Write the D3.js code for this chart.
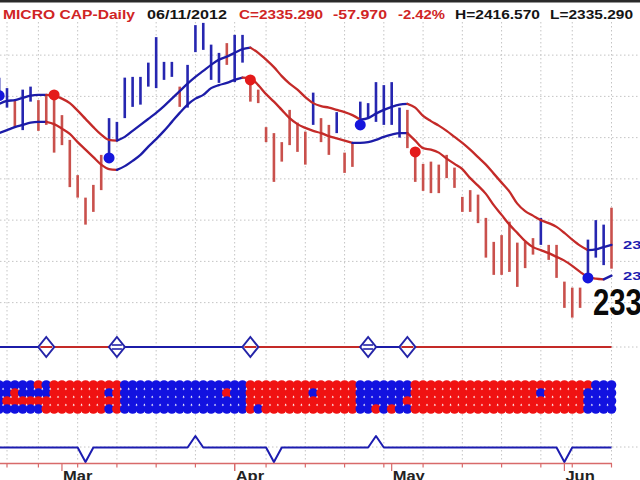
<!DOCTYPE html>
<html><head><meta charset="utf-8">
<script src="https://cdn.jsdelivr.net/npm/d3@7"></script>
<style>html,body{margin:0;padding:0;background:#fff;overflow:hidden}svg{display:block;font-family:"Liberation Sans",Arial,sans-serif}</style>
</head><body><svg id="c" width="640" height="480"></svg>
<script>
// ---------- data ----------
const days = ["02-17","02-21","02-22","02-23","02-24","02-27","02-28","02-29",
"03-01","03-02","03-05","03-06","03-07","03-08","03-09","03-12","03-13","03-14","03-15","03-16","03-19","03-20","03-21","03-22","03-23","03-26","03-27","03-28","03-29","03-30",
"04-02","04-03","04-04","04-05","04-09","04-10","04-11","04-12","04-13","04-16","04-17","04-18","04-19","04-20","04-23","04-24","04-25","04-26","04-27","04-30",
"05-01","05-02","05-03","05-04","05-07","05-08","05-09","05-10","05-11","05-14","05-15","05-16","05-17","05-18","05-21","05-22","05-23","05-24","05-25","05-29","05-30","05-31",
"06-01","06-04","06-05","06-06","06-07","06-08","06-11"];
const barHigh = [2590,2576,2559,2574,2578,2560,2567,2567,2540,2507,2460,2430,2447,2487,2536,2531,2590,2591,2591,2610,2644,2611,2611,2578,2607,2660,2663,2634,2623,2636,
2647,2647,2587,2574,2524,2516,2504,2547,2530,2518,2570,2536,2527,2544,2490,2503,2558,2556,2584,2580,
2584,2550,2547,2491,2475,2478,2474,2487,2470,2431,2440,2434,2403,2371,2380,2398,2370,2371,2376,2403,2367,2367,
2318,2310,2310,2374,2400,2394,2416.57];
const barLow = [2566,2550,2523,2520,2558,2519,2527,2490,2500,2444,2430,2394,2411,2440,2483,2507,2536,2551,2554,2578,2576,2587,2591,2551,2550,2624,2627,2587,2583,2607,
2584,2610,2558,2556,2504,2451,2478,2500,2491,2474,2527,2504,2487,2516,2463,2471,2527,2536,2531,2527,
2527,2510,2496,2451,2439,2436,2436,2456,2443,2411,2411,2396,2350,2327,2327,2331,2311,2336,2354,2367,2347,2323,
2283,2270,2283,2323,2350,2340,2335.29];
const barColor = ("bbrbbrrrrr"+"rrrrbbbbbb"+"bbbrbbbbbr"+"bbrrrrrrrr"+"brrbrrbbbb"+"bbrrrrrrrr"+"rrrrrrrrrb"+"rrrrrbbbr").split("");
const upperBand = [2555,2559,2560,2563,2566,2567,2567,2566,2562,2556,2546,2535,2524,2514,2507,2506,2511,2519,2527,2535,2543,2552,2562,2572,2582,2591,2599,2607,2614,2618,
2623,2628,2630,2623,2614,2604,2592,2582,2574,2564,2556,2552,2550,2547,2544,2540,2534,2536,2542,2547,
2551,2554,2555,2550,2539,2532,2526,2519,2511,2503,2494,2484,2474,2462,2450,2438,2422,2412,2406,2400,2396,2391,
2383,2374,2366,2360,2361,2364,2367];
const lowerBand = [2516,2520,2524,2527,2530,2531,2531,2528,2522,2515,2504,2494,2484,2474,2468,2467,2472,2479,2487,2498,2508,2519,2531,2543,2554,2562,2567,2576,2580,2583,
2587,2590,2589,2580,2568,2558,2547,2536,2528,2523,2519,2516,2512,2509,2506,2503,2503,2504,2507,2511,
2514,2516,2516,2506,2496,2494,2490,2482,2475,2468,2456,2446,2435,2420,2407,2394,2383,2372,2364,2360,2356,2351,
2346,2339,2331,2324,2322,2321,2326];
const gridValues = [2290,2345,2400,2455,2510,2565,2620];
const monthLabels = ["Mar","Apr","May","Jun"];
const buyDots = ["02-17","03-09","04-25","06-06"];
const sellDots = ["02-29","04-04","05-04"];
const diamondDays = ["02-28","03-12","04-04","04-26","05-03"];
const diamondSide = ["sell","buy","sell","buy","sell"];
const oscDays = ["03-06","03-26","04-10","04-27","06-01"];
const oscValues = [-1,1,-1,1,-1];
const matrixRows = [
 "bbbbbrbrrrrrrrrrbbbbbbbbbbbbbbbbrrrrrrrrrrrrrrbbbbbbbrrrrrrrrrrrrrrrrrrrrrrrbbb",
 "bbrbbbbrrrrrrrbrbbbbbbbbbbbbbrbbrrrrrrrrbrrrrrbbbbbbbrrrrrrrrrrrrrrrrbrrrrrbbbb",
 "brrrrrrrrrrrrrrrbbbbbbbbbbbbbbbbrrrrrrrrrrrrrrbbbbbbrrrrrrrrrrrrrrrrrrrrrrrbbbb",
 "bbbbbbrrrrrrrrbrbbbbbbbbbbbbbbbbrbrrrrrrrrrrrrbbrbrbbrrrrrrrrrrrrrrrrrrrrrrbbbb"];
const headerTexts = ["MICRO CAP-Daily","06/11/2012","C=2335.290","-57.970","-2.42%","H=2416.570","L=2335.290"];
const lastClose = 2335.29;

// ---------- styles ----------
const C = {barB:"#2626b0", barR:"#c9504c", lineB:"#1c1ca8", lineR:"#c42a28", dotB:"#1616dc", dotR:"#e41a1a",
  mB:"#1212e0", mR:"#f01212", grid:"#c4c4c4", hdrR:"#d02424", hdrK:"#141414"};
const headerStyle = [[3,132,C.hdrR],[147,80,C.hdrK],[239,84,C.hdrR],[333,54,C.hdrR],[398,47,C.hdrR],[455,85,C.hdrK],[550,83,C.hdrK]];

const svg = d3.select("#c");
const parse = d3.timeParse("%Y-%m-%d");
const dates = days.map(d => parse("2012-" + d));
const x = d3.scalePoint().domain(days).range([-0.85, 611.5]);
const y = d3.scaleLinear().domain([2280, 2680]).range([310.125, 10.125]);
const my = d3.scalePoint().domain([0,1,2,3]).range([385, 409]);
const oy = d3.scaleLinear().domain([-1,0,1]).range([462,447.5,436]);

// top border
svg.append("rect").attr("x",0).attr("y",0).attr("width",640).attr("height",2.5).attr("fill","#2a2a2a");

// week / month starts
const weekStart = days.filter((d,i) => i>0 && +d3.timeMonday.floor(dates[i]) !== +d3.timeMonday.floor(dates[i-1]));
const monthStart = days.filter((d,i) => i>0 && dates[i].getMonth() !== dates[i-1].getMonth());

// grid
const g = svg.append("g").attr("stroke", C.grid).attr("stroke-width",1).attr("stroke-dasharray","1.5,2.5");
g.selectAll(".v").data(weekStart).join("line").attr("x1",d=>x(d)).attr("x2",d=>x(d)).attr("y1",22).attr("y2",462);
g.selectAll(".h").data(gridValues).join("line").attr("x1",0).attr("x2",640).attr("y1",d=>y(d)).attr("y2",d=>y(d));
g.selectAll(".h2").data([347,447]).join("line").attr("x1",0).attr("x2",640).attr("y1",d=>d).attr("y2",d=>d);

// bars
svg.append("g").selectAll("line").data(days).join("line")
  .attr("x1",d=>x(d)).attr("x2",d=>x(d))
  .attr("y1",(d,i)=>y(barHigh[i])).attr("y2",(d,i)=>y(barLow[i]))
  .attr("stroke",(d,i)=>barColor[i]==="b"?C.barB:C.barR).attr("stroke-width",2.6);

// bands coloured by slope
function band(vals){
  const runs=[]; let cur=null;
  for(let i=0;i<vals.length-1;i++){
    const col = vals[i+1]>=vals[i] ? C.lineB : C.lineR;
    if(!cur || cur.col!==col){ cur={col,idx:[i]}; runs.push(cur); }
    cur.idx.push(i+1);
  }
  const line = d3.line().x(i=>x(days[i])).y(i=>y(vals[i])).curve(d3.curveMonotoneX);
  svg.append("g").selectAll("path").data(runs).join("path")
    .attr("d",r=>line(r.idx)).attr("fill","none").attr("stroke",r=>r.col).attr("stroke-width",2.3).attr("stroke-linecap","round");
}
band(upperBand); band(lowerBand);

// signal dots
svg.append("g").selectAll("circle").data(buyDots).join("circle")
  .attr("cx",d=>x(d)).attr("cy",d=>y(barLow[days.indexOf(d)])).attr("r",5.5).attr("fill",C.dotB);
svg.append("g").selectAll("circle").data(sellDots).join("circle")
  .attr("cx",d=>x(d)).attr("cy",d=>y(barHigh[days.indexOf(d)])).attr("r",5.5).attr("fill",C.dotR);

// right labels
const last = days.length-1;
[upperBand[last], lowerBand[last]].forEach(v=>{
  svg.append("text").attr("x",623).attr("y",y(v)+4).attr("font-size",11).attr("font-weight","bold").attr("fill","#1c1cb0")
    .attr("textLength",60).attr("lengthAdjust","spacingAndGlyphs").text(v.toFixed(2));
});
svg.append("text").attr("x",593).attr("y",315).attr("font-size",37).attr("font-weight","bold").attr("fill","#0a0a0a")
  .attr("textLength",106).attr("lengthAdjust","spacingAndGlyphs").text(lastClose.toFixed(2));

// header
svg.append("g").selectAll("text").data(headerTexts).join("text")
  .attr("x",(d,i)=>headerStyle[i][0]).attr("y",19).attr("font-size",12.5).attr("font-weight","bold")
  .attr("fill",(d,i)=>headerStyle[i][2]).attr("textLength",(d,i)=>headerStyle[i][1]).attr("lengthAdjust","spacingAndGlyphs").text(d=>d);

// diamond strip
const dIdx = diamondDays.map(d=>days.indexOf(d));
const segs=[]; let prev=0, state="buy";
dIdx.forEach((k,n)=>{ segs.push({a:prev,b:k,col:state==="buy"?C.lineB:C.lineR}); prev=k; state=diamondSide[n]; });
segs.push({a:prev,b:last,col:state==="buy"?C.lineB:C.lineR});
svg.append("g").selectAll("line").data(segs).join("line")
  .attr("x1",s=>s.a===0?0:x(days[s.a])).attr("x2",s=>x(days[s.b])).attr("y1",347).attr("y2",347)
  .attr("stroke",s=>s.col).attr("stroke-width",2);
const dg = svg.append("g").selectAll("g").data(diamondDays).join("g").attr("transform",d=>`translate(${x(d)},347)`);
dg.append("path").attr("d","M0,-10L8,0L0,10L-8,0Z").attr("fill","#fff").attr("stroke","#2424a8").attr("stroke-width",2);
dg.each(function(d,i){
  const s=d3.select(this);
  if(diamondSide[i]==="buy"){
    s.append("line").attr("x1",-5).attr("x2",5).attr("y1",-2).attr("y2",-2).attr("stroke","#2424a8").attr("stroke-width",1.6);
    s.append("line").attr("x1",-5).attr("x2",5).attr("y1",2).attr("y2",2).attr("stroke","#2424a8").attr("stroke-width",1.6);
  } else {
    s.append("line").attr("x1",-6).attr("x2",6).attr("y1",0).attr("y2",0).attr("stroke",C.lineR).attr("stroke-width",2);
  }
});

// dot matrix
const cells=[];
matrixRows.forEach((row,r)=>row.split("").forEach((c,i)=>cells.push({r,i,c})));
svg.append("g").selectAll("circle").data(cells).join("circle")
  .attr("cx",d=>x(days[d.i])).attr("cy",d=>my(d.r)).attr("r",4.8).attr("fill",d=>d.c==="b"?C.mB:C.mR);

// oscillator line
const osc = days.map(d=>{const k=oscDays.indexOf(d); return k<0?0:oscValues[k];});
svg.append("path").attr("d",d3.line().x((v,i)=>x(days[i])).y(v=>oy(v))(osc))
  .attr("fill","none").attr("stroke","#1c1cb0").attr("stroke-width",2).attr("stroke-linejoin","round");

// bottom axis
svg.append("line").attr("x1",0).attr("x2",612).attr("y1",463.5).attr("y2",463.5).attr("stroke","#d86a6a").attr("stroke-width",1.5);
svg.append("g").selectAll("line").data(weekStart.concat(monthStart)).join("line")
  .attr("x1",d=>x(d)).attr("x2",d=>x(d)).attr("y1",463.5).attr("y2",d=>monthStart.includes(d)?471:467.5)
  .attr("stroke","#d86a6a").attr("stroke-width",1.2);
svg.append("g").selectAll("text").data(monthStart).join("text")
  .attr("x",d=>x(d)+1).attr("y",481).attr("font-size",14).attr("font-weight","bold").attr("fill","#222")
  .text((d,i)=>monthLabels[i])
  .each(function(){ const w=this.getComputedTextLength(); this.setAttribute("textLength",w*1.18); this.setAttribute("lengthAdjust","spacingAndGlyphs"); });
</script></body></html>
